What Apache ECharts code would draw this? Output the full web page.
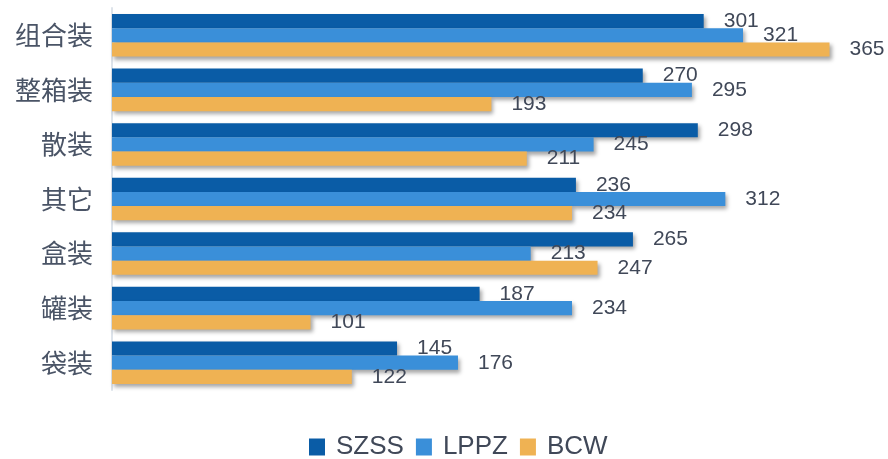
<!DOCTYPE html>
<html>
<head>
<meta charset="utf-8">
<script src="https://cdn.jsdelivr.net/npm/echarts@6/dist/echarts.min.js"></script>
<style>
  html, body { margin: 0; padding: 0; background: #fff; }
  #chart { width: 888px; height: 459px; }
</style>
</head>
<body>
<div id="chart"></div>
<script>
// 分类（从上到下）
var categories = ['组合装', '整箱装', '散装', '其它', '盒装', '罐装', '袋装'];
var seriesNames = ['SZSS', 'LPPZ', 'BCW'];
var szss = [301, 270, 298, 236, 265, 187, 145];
var lppz = [321, 295, 245, 312, 213, 234, 176];
var bcw = [365, 193, 211, 234, 247, 101, 122];
var colors = ['#0a5ca6', '#3a8fd9', '#efb253'];

var myChart = echarts.init(document.getElementById('chart'));

function makeSeries(name, data) {
  return {
    name: name,
    type: 'bar',
    data: data,
    barGap: '0%',
    barCategoryGap: '22%',
    itemStyle: {
      shadowColor: 'rgba(0,0,0,0.35)',
      shadowBlur: 4,
      shadowOffsetX: 2,
      shadowOffsetY: 3
    },
    label: {
      show: true,
      position: 'right',
      distance: 20,
      color: '#404858',
      fontSize: 21,
      fontFamily: 'Liberation Sans, Arial, sans-serif'
    }
  }
}

var option = {
  animation: false,
  color: colors,
  grid: {
    left: 112,
    right: 29,
    top: 8,
    bottom: 69,
    containLabel: false
  },
  legend: {
    left: 304,
    top: 429,
    itemWidth: 16,
    itemHeight: 17,
    itemGap: 12,
    icon: 'rect',
    textStyle: {
      color: '#404858',
      fontSize: 26,
      padding: [0, 0, 0, 6],
      fontFamily: 'Liberation Sans, Arial, sans-serif'
    },
    data: seriesNames
  },
  xAxis: {
    type: 'value',
    min: 0,
    max: 380,
    show: false
  },
  yAxis: {
    type: 'category',
    inverse: true,
    data: categories,
    axisLine: {
      show: true,
      lineStyle: { color: '#dde3ea', width: 2 }
    },
    axisTick: { show: false },
    axisLabel: {
      margin: 19,
      color: '#4a5466',
      fontSize: 26,
      fontFamily: 'Noto Sans CJK SC, sans-serif'
    }
  },
  series: [
    makeSeries(seriesNames[0], szss),
    makeSeries(seriesNames[1], lppz),
    makeSeries(seriesNames[2], bcw)
  ]
};

myChart.setOption(option);
</script>
</body>
</html>
